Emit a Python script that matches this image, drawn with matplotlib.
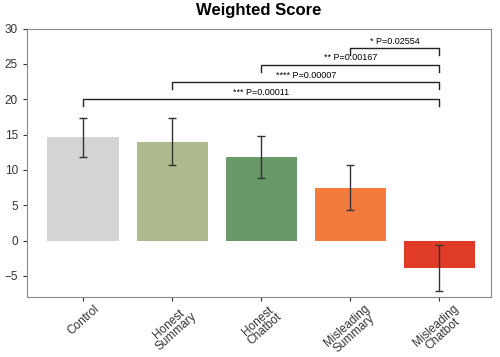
import matplotlib
matplotlib.use("Agg")
import matplotlib.pyplot as plt
import numpy as np

plt.rcParams["font.family"] = ["Liberation Sans", "DejaVu Sans"]

categories = ["Control", "Honest\nSummary", "Honest\nChatbot", "Misleading\nSummary", "Misleading\nChatbot"]
means = [14.6, 14.0, 11.8, 7.5, -3.9]
errors = [2.75, 3.3, 3.0, 3.15, 3.2]
colors = ["#d4d4d4", "#adba8b", "#679a68", "#f47b3e", "#df3b26"]

# significance brackets: (left index, right index, y level, label)
brackets = [
    (0, 4, 20.0, "*** P=0.00011"),
    (1, 4, 22.4, "**** P=0.00007"),
    (2, 4, 24.9, "** P=0.00167"),
    (3, 4, 27.3, "* P=0.02554"),
]

fig = plt.figure(figsize=(5, 3.57), dpi=100)
ax = fig.add_axes([0.054, 0.168, 0.928, 0.752])
x = np.arange(len(categories))
ax.bar(x, means, width=0.8, color=colors, yerr=errors, capsize=3,
       error_kw=dict(ecolor="#333333", elinewidth=1.0, capthick=1.0))

for l, r, y, lab in brackets:
    drop = 1.0
    ax.plot([x[l], x[l], x[r], x[r]], [y - drop, y, y, y - drop], color="#222222", lw=1.0)
    ax.text((x[l] + x[r]) / 2, y + 0.3, lab, ha="center", va="bottom", fontsize=6.5)

ax.set_ylim(-8, 30)
ax.set_xlim(-0.63, 4.58)
ax.set_yticks([-5, 0, 5, 10, 15, 20, 25, 30])
ax.set_xticks(x)
ax.set_xticklabels(categories, rotation=42, ha="center", fontsize=8.5, linespacing=0.9)
ax.tick_params(axis="y", labelsize=8.5, length=3, colors="#333333")
ax.tick_params(axis="x", length=3, colors="#333333", pad=1)
for s in ax.spines.values():
    s.set_color("#888888")
ax.set_title("Weighted Score", fontsize=12, fontweight="bold", pad=10)

fig.savefig("out.png", dpi=100)
